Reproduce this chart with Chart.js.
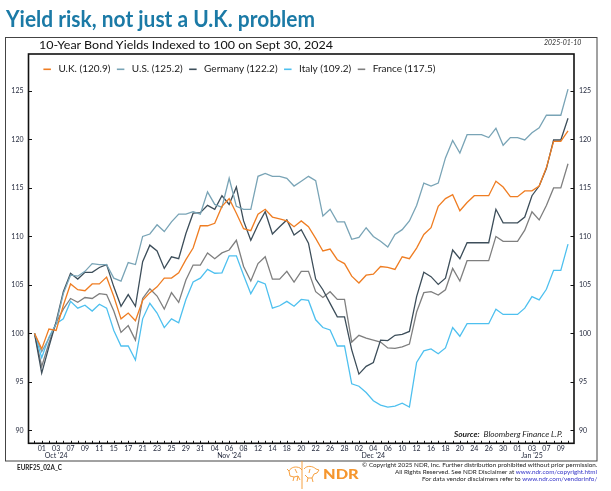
<!DOCTYPE html>
<html><head><meta charset="utf-8">
<script src="https://cdn.jsdelivr.net/npm/chart.js@4.4.1/dist/chart.umd.min.js"></script>
<style>
html,body{margin:0;padding:0;background:#fff;}
#wrap{position:relative;width:611px;height:491px;overflow:hidden;font-family:Lato,"Open Sans",sans-serif;background:#fff;}
#c{position:absolute;left:0;top:0;}
.t{position:absolute;white-space:nowrap;line-height:1;transform-origin:left center;}
#logo{position:absolute;left:286px;top:461px;}
</style></head><body>
<div id="wrap">
<canvas id="c" width="611" height="491"></canvas>
<svg id="logo" width="34" height="28" viewBox="0 0 34 28" fill="none" stroke="#f5962e" stroke-width="0.9">
  <path d="M16 0 L16 28"/>
  <path d="M3 10 C5 6 10 5 14 7 L16 9 M3 10 L1 8 M3 10 L4 15 L8 16 L12 15 L14 19 M8 16 L7 20 M12 15 L11 20"/>
  <path d="M18 8 C21 4 27 5 30 8 L33 9 L31 12 L28 13 L26 17 L22 17 L19 14 M22 17 L21 21 M26 17 L27 21"/>
  <path d="M9 8 L11 12 M24 8 L23 12"/>
</svg>
</div>
<script>
// ---------------- data ----------------
const xTickLabels = ["01","03","07","09","11","15","17","21","23","25","29","31",
  "04","06","08","12","14","18","20","22","26","28",
  "02","04","06","10","12","16","18","20","24","26","30",
  "01","03","07","09"];
// month captions attached to the tick label with this position in xTickLabels
const monthLabels = ["Oct '24","Nov '24","Dec '24","Jan '25"];
const monthTickPos = [1,13,23,34];
const yTicks = [90,95,100,105,110,115,120,125];

const seriesNames = ["U.K.","U.S.","Germany","Italy","France"];
const uk = [100,98.4,100.45,100.3,102.9,105.1,104.5,104.4,105.1,105.1,
 105.8,103.8,101.5,102.1,101.3,103.4,104.2,104.8,105.7,105.7,
 106.25,107.6,108.8,111.1,111.1,111.35,113.1,113.9,112.4,110.8,
 110.6,112.3,112.8,112.0,111.8,111.6,111.0,111.6,111.0,109.8,
 108.5,108.7,107.6,107.2,105.9,105.2,106.0,106.1,106.9,106.8,
 106.6,107.9,107.7,108.8,110.2,110.9,113.1,113.9,114.3,112.65,
 113.5,114.2,114.2,114.2,115.7,115.1,114.1,114.1,114.7,114.7,
 115.2,117.1,119.8,119.8,120.9];
const us = [100,98.1,99.5,101.0,104.1,106.0,105.9,106.4,107.2,107.1,
 107.1,105.7,105.4,107.3,107.1,110.0,110.25,111.2,110.5,111.5,
 112.3,112.3,112.55,112.3,114.6,113.3,113.0,116.0,113.1,112.8,
 112.8,116.2,116.5,116.2,116.2,116.0,115.2,115.7,116.2,115.75,
 112.1,112.8,111.5,111.5,109.7,109.9,110.9,110.0,109.5,108.9,
 110.2,110.7,111.6,113.2,115.5,115.2,115.5,118.1,119.9,118.6,
 120.5,120.5,120.5,120.2,121.15,119.4,120.2,120.2,119.95,120.7,
 121.2,122.5,122.5,122.5,125.2];
const germany = [100,95.9,98.6,101.2,104.3,106.2,105.6,106.3,106.3,106.8,
 107.1,104.8,102.8,104.0,102.8,107.4,109.1,108.5,106.7,107.9,
 107.7,110.3,112.4,112.45,113.2,112.8,114.2,113.3,115.1,111.6,
 109.6,111.2,112.55,110.25,111.0,111.7,110.15,110.7,109.3,105.6,
 104.5,103.1,101.7,101.7,98.3,95.8,96.6,97.0,99.3,99.25,
 99.8,99.9,100.2,103.8,106.3,105.85,105.05,105.7,108.6,107.7,
 109.35,109.35,109.35,109.35,112.8,111.4,111.4,111.4,112.0,114.2,
 115.2,117.0,119.95,119.95,122.2];
const italy = [100,97.5,99.6,101.0,101.5,103.3,102.6,102.9,102.3,103.0,
 102.6,100.3,98.7,98.7,97.25,101.5,103.1,102.1,100.6,101.5,
 101.1,103.5,105.3,105.7,106.6,106.2,106.25,108.0,108.0,106.0,
 104.1,105.4,105.1,102.6,102.85,103.3,102.8,103.5,103.4,101.4,
 100.6,100.35,98.7,98.7,94.8,94.55,93.9,93.05,92.6,92.4,
 92.5,92.8,92.4,97.0,98.2,98.4,97.9,98.5,100.6,99.7,
 101.0,101.0,101.0,101.0,102.5,101.95,101.95,101.95,102.6,103.8,
 103.45,104.55,106.5,106.5,109.2];
const france = [100,96.6,99.0,101.1,102.5,103.6,103.2,103.7,103.6,104.1,
 104.0,102.3,100.1,100.8,99.3,103.6,104.6,103.85,102.5,104.2,
 103.2,105.5,107.05,107.05,108.3,107.7,108.3,108.6,109.6,106.9,
 105.4,107.2,107.9,105.6,105.6,106.4,105.3,106.4,106.4,104.3,
 103.7,104.3,103.5,103.5,99.1,99.8,99.5,99.3,99.1,98.5,
 98.45,98.6,98.9,102.2,104.2,104.3,103.95,104.5,106.7,105.4,
 107.5,107.5,107.5,107.5,110.0,109.5,109.5,109.5,110.65,112.55,
 111.7,113.2,115.0,115.0,117.5];
const seriesValues = [uk, us, germany, italy, france];
const seriesColors = ["#ef7d22","#79a4b6","#3d4e5a","#4ec0ef","#7f7f7f"];

// ---------------- layout ----------------
const AREA = {left:28.5, right:574, top:54, bottom:443.3};
const W = 611, H = 491;

const frame = {
  id:'frame',
  afterDraw(chart){
    const c = chart.ctx, a = chart.chartArea;
    const xs = chart.scales.x, ys = chart.scales.y;
    c.save();
    // outer box
    c.strokeStyle = '#444'; c.lineWidth = 1;
    c.strokeRect(5.5, 37.5, 591.5, 423.5);
    // plot frame
    c.strokeStyle = '#111'; c.lineWidth = 1.6;
    c.strokeRect(a.left, a.top, a.right - a.left, a.bottom - a.top);
    // inward tick marks
    c.lineWidth = 1;
    yTicks.forEach(v => {
      const py = Math.round(ys.getPixelForValue(v)) + 0.5;
      c.beginPath(); c.moveTo(a.left, py); c.lineTo(a.left + 3.5, py); c.stroke();
      c.beginPath(); c.moveTo(a.right, py); c.lineTo(a.right - 3.5, py); c.stroke();
    });
    for (let i = 0; i < uk.length; i++) {
      const px = Math.round(xs.getPixelForValue(i)) + 0.5;
      c.beginPath(); c.moveTo(px, a.bottom); c.lineTo(px, a.bottom - 2.5); c.stroke();
    }
    // legend
    c.font = '10px Lato, "Open Sans", sans-serif';
    c.textBaseline = 'middle';
    let x = 43.4; const y = 68.3;
    chart.data.datasets.forEach(ds => {
      c.strokeStyle = ds.borderColor; c.lineWidth = 1.6;
      c.beginPath(); c.moveTo(x, y + 1); c.lineTo(x + 7.5, y + 1); c.stroke();
      x += 15;
      c.fillStyle = '#1a1a1a'; c.fillText(ds.label, x, y);
      x += c.measureText(ds.label).width + 6.5;
    });
    c.restore();
  }
};

const tickFont = {size:7, family:'Lato, "Open Sans", sans-serif', lineHeight:0.95};
const yAxis = (pos, width) => ({
  type:'linear', position:pos, min:88.66, max:128.82,
  grid:{display:false, drawTicks:false}, border:{display:false},
  afterBuildTicks: s => { s.ticks = yTicks.map(v => ({value:v})); },
  afterFit: s => { s.width = width; },
  ticks:{padding:5, font:tickFont, color:'#1e2438', callback:v => String(v)}
});

new Chart(document.getElementById('c'), {
  type:'line',
  data:{
    datasets: seriesNames.map((n, k) => ({
      label: n + ' (' + seriesValues[k][seriesValues[k].length - 1].toFixed(1) + ')',
      data: seriesValues[k].map((v, i) => ({x:i, y:v})),
      borderColor: seriesColors[k], borderWidth:1.3,
      pointRadius:0, tension:0, fill:false
    }))
  },
  options:{
    responsive:false, animation:false, devicePixelRatio:1,
    layout:{padding:{top:AREA.top, left:0, right:0, bottom:0}},
    plugins:{legend:{display:false}, tooltip:{enabled:false}, title:{display:false}},
    scales:{
      x:{type:'linear', min:-0.832, max:74.83,
        grid:{display:false, drawTicks:false}, border:{display:false},
        afterBuildTicks: s => { s.ticks = xTickLabels.map((l, k) => ({value: 2*k + 1})); },
        afterFit: s => { s.height = H - AREA.bottom; },
        ticks:{autoSkip:false, maxRotation:0, minRotation:0, padding:2, font:tickFont, color:'#1e2438',
          callback:(v, idx) => {
            const m = monthTickPos.indexOf(idx);
            return m >= 0 ? [xTickLabels[idx], monthLabels[m]] : xTickLabels[idx];
          }}
      },
      y: yAxis('left', AREA.left),
      y2: yAxis('right', W - AREA.right)
    }
  },
  plugins:[frame]
});

// ---------------- text ----------------
const texts = [
  {html:'Yield risk, not just a U.K. problem', x:6, w:309, cy:20, size:23, weight:700, color:'#1b7aa6'},
  {html:'10-Year Bond Yields Indexed to 100 on Sept 30, 2024', x:39.4, w:294, cy:45.3, size:12, color:'#111'},
  {html:'2025-01-10', x:543.7, w:37.3, cy:42.7, size:7.5, italic:true, color:'#333'},
  {html:'<b>Source:</b>&nbsp;&nbsp;Bloomberg Finance L.P.', x:454, w:108.7, cy:434.3, size:8, italic:true, color:'#222'},
  {html:'EURF25_02A_C', x:16.7, w:45, cy:468.3, size:6.5, weight:700, color:'#222'},
  {html:'NDR', x:323.3, w:35.7, cy:475, size:13, weight:900, color:'#f5962e'},
  {html:'© Copyright 2025 NDR, Inc. Further distribution prohibited without prior permission.', x:361.7, w:235.3, cy:465.7, size:6.5, color:'#222'},
  {html:'All Rights Reserved. See NDR Disclaimer at <span style="color:#3535c8">www.ndr.com/copyright.html</span>', x:395, w:202, cy:472.7, size:6.5, color:'#222'},
  {html:'For data vendor disclaimers refer to <span style="color:#3535c8">www.ndr.com/vendorinfo/</span>', x:421.7, w:175.3, cy:480, size:6.5, color:'#222'}
];
const wrap = document.getElementById('wrap');
const els = texts.map(t => {
  const d = document.createElement('div');
  d.className = 't';
  d.innerHTML = t.html;
  d.style.left = t.x + 'px';
  d.style.top = (t.cy - 0.55 * t.size) + 'px';
  d.style.fontSize = t.size + 'px';
  d.style.fontWeight = t.weight || 400;
  if (t.italic) d.style.fontStyle = 'italic';
  d.style.color = t.color;
  wrap.appendChild(d);
  return d;
});
function fit(){
  els.forEach((d, k) => {
    d.style.transform = 'none';
    const w = d.getBoundingClientRect().width;
    if (w > 0) d.style.transform = 'scaleX(' + (texts[k].w / w) + ')';
  });
}
fit();
if (document.fonts && document.fonts.ready) document.fonts.ready.then(fit);
</script>
</body></html>
